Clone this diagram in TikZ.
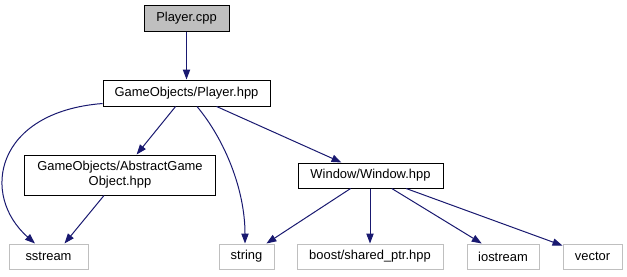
\documentclass[tikz,border=0pt]{standalone}
\usepackage{fontspec}
\setmainfont{Liberation Sans}
\usetikzlibrary{arrows.meta,calc}
\definecolor{edgeblue}{HTML}{191970}
\definecolor{lightframe}{HTML}{BFBFBF}
\begin{document}
\begin{tikzpicture}[x=0.75pt,y=-0.75pt,
  font=\fontsize{9.7}{11.25}\selectfont,
  box/.style 2 args={draw, line width=0.75pt, inner sep=0pt, align=center,
    minimum width=#1*0.75pt, minimum height=#2*0.75pt},
  filebox/.style 2 args={box={#1}{#2}, draw=black},
  rootbox/.style 2 args={box={#1}{#2}, draw=black, fill=lightframe},
  extbox/.style 2 args={box={#1}{#2}, draw=lightframe},
  edge/.style={draw=edgeblue, line width=0.75pt,
    -{Triangle[length=7.5pt,width=5.5pt,fill=edgeblue]}}]
  \useasboundingbox (0,0) rectangle (627,276);

  % files of the project
  \node[rootbox={85}{26}] (cpp) at (186.5,18.5) {Player.cpp};
  \node[filebox={167}{26}] (phpp) at (186.5,93) {GameObjects/Player.hpp};
  \node[filebox={191}{40}] (ago) at (120,175) {GameObjects/AbstractGame\\Object.hpp};
  \node[filebox={145}{25}] (win) at (370.5,175.5) {Window/Window.hpp};

  % system and library headers
  \node[extbox={79}{25}] (sstream) at (48.5,256.5) {sstream};
  \node[extbox={55}{25}] (string) at (246.5,256.5) {string};
  \node[extbox={146}{25}] (boost) at (370,256.5) {boost/shared\_ptr.hpp};
  \node[extbox={72}{25}] (iostream) at (503,256.5) {iostream};
  \node[extbox={59}{25}] (vector) at (592.5,256.5) {vector};

  % include relations
  \draw[edge] (cpp) -- (phpp);
  \draw[edge] ($(phpp.south west)+(0,-3)$) .. controls (-5,112) and (-20,195) .. ($(sstream.north)+(-13.5,0)$);
  \draw[edge] (phpp) -- (ago);
  \draw[edge] ($(phpp.south)+(10.5,0)$) .. controls (225,140) and (245,190) .. ($(string.north)+(-1.5,0)$);
  \draw[edge] (phpp) -- (win);
  \draw[edge] ($(ago.south)+(-16,0)$) -- ($(sstream.north)+(16,0)$);
  \draw[edge] (win) -- (string);
  \draw[edge] (win.south -| boost.north) -- (boost.north);
  \draw[edge] (win) -- (iostream);
  \draw[edge] (win) -- (vector);
\end{tikzpicture}
\end{document}
